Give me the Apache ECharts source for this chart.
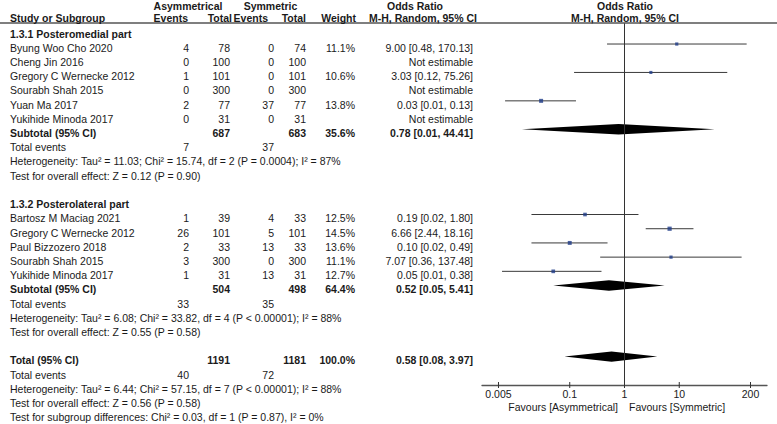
<!DOCTYPE html>
<html><head><meta charset="utf-8">
<script src="https://cdn.jsdelivr.net/npm/echarts@6/dist/echarts.min.js"></script>
<style>html,body{margin:0;padding:0;background:#fff}#c{width:777px;height:424px}</style>
</head><body><div id="c"></div>
<script>
const FONT = '"Liberation Sans", Arial, Helvetica, sans-serif';

// ---- Subgroup 1.3.1 ----
const g1Title = '1.3.1 Posteromedial part';
const g1Studies = ['Byung Woo Cho 2020', 'Cheng Jin 2016', 'Gregory C Wernecke 2012', 'Sourabh Shah 2015', 'Yuan Ma 2017', 'Yukihide Minoda 2017'];
const g1EvA = [4, 0, 1, 0, 2, 0];
const g1TotA = [78, 100, 101, 300, 77, 31];
const g1EvS = [0, 0, 0, 0, 37, 0];
const g1TotS = [74, 100, 101, 300, 77, 31];
const g1Wt = [11.1, null, 10.6, null, 13.8, null];
const g1Or = [9.00, null, 3.03, null, 0.03, null];
const g1Lo = [0.48, null, 0.12, null, 0.0066, null];
const g1Hi = [170.13, null, 75.26, null, 0.13, null];
const g1Sub = [0.78, 0.0134, 44.41];          // estimate, lower, upper
const g1SubTot = [687, 683, 35.6];
const g1Events = [7, 37];
const g1Het = 'Heterogeneity: Tau\u00B2 = 11.03; Chi\u00B2 = 15.74, df = 2 (P = 0.0004); I\u00B2 = 87%';
const g1Test = 'Test for overall effect: Z = 0.12 (P = 0.90)';

// ---- Subgroup 1.3.2 ----
const g2Title = '1.3.2 Posterolateral part';
const g2Studies = ['Bartosz M Maciag 2021', 'Gregory C Wernecke 2012', 'Paul Bizzozero 2018', 'Sourabh Shah 2015', 'Yukihide Minoda 2017'];
const g2EvA = [1, 26, 2, 3, 1];
const g2TotA = [39, 101, 33, 300, 31];
const g2EvS = [4, 5, 13, 0, 13];
const g2TotS = [33, 101, 33, 300, 31];
const g2Wt = [12.5, 14.5, 13.6, 11.1, 12.7];
const g2Or = [0.19, 6.66, 0.10, 7.07, 0.05];
const g2Lo = [0.02, 2.44, 0.02, 0.36, 0.0058];
const g2Hi = [1.80, 18.16, 0.49, 137.48, 0.38];
const g2Sub = [0.52, 0.05, 5.41];
const g2SubTot = [504, 498, 64.4];
const g2Events = [33, 35];
const g2Het = 'Heterogeneity: Tau\u00B2 = 6.08; Chi\u00B2 = 33.82, df = 4 (P < 0.00001); I\u00B2 = 88%';
const g2Test = 'Test for overall effect: Z = 0.55 (P = 0.58)';

// ---- Overall ----
const totSub = [0.58, 0.08, 3.97];
const totTot = [1191, 1181, 100.0];
const totEvents = [40, 72];
const totHet = 'Heterogeneity: Tau\u00B2 = 6.44; Chi\u00B2 = 57.15, df = 7 (P < 0.00001); I\u00B2 = 88%';
const totTest = 'Test for overall effect: Z = 0.56 (P = 0.58)';
const subgroupTest = 'Test for subgroup differences: Chi\u00B2 = 0.03, df = 1 (P = 0.87), I\u00B2 = 0%';

// ---- Axis ----
const tickValues = [0.005, 0.1, 1, 10, 200];
const tickLabels = ['0.005', '0.1', '1', '10', '200'];
const favourLeft = 'Favours [Asymmetrical]';
const favourRight = 'Favours [Symmetric]';

// ---------- build rows ----------
const fmt = v => v.toFixed(2);
const effText = (e, l, h) => e == null ? 'Not estimable' : fmt(e) + ' [' + fmt(l) + ', ' + fmt(h) + ']';
const rows = [];      // {r, cells:{...}, bold}
const squares = [];   // [or, row, weight]
const ciLines = [];   // [lo, row, hi]
const diamonds = [];  // [lo, row, est, hi]
let r = 0;
const groups = [
  [g1Title, g1Studies, g1EvA, g1TotA, g1EvS, g1TotS, g1Wt, g1Or, g1Lo, g1Hi, g1Sub, g1SubTot, g1Events, g1Het, g1Test],
  [g2Title, g2Studies, g2EvA, g2TotA, g2EvS, g2TotS, g2Wt, g2Or, g2Lo, g2Hi, g2Sub, g2SubTot, g2Events, g2Het, g2Test]
];
groups.forEach(g => {
  const [title, st, evA, totA, evS, totS, wt, or, lo, hi, sub, subTot, ev, het, test] = g;
  rows.push({r: r++, cells: {name: title}, bold: true});
  st.forEach((s, i) => {
    rows.push({r: r, cells: {name: s, evA: evA[i], totA: totA[i], evS: evS[i], totS: totS[i],
      wt: wt[i] == null ? '' : wt[i].toFixed(1) + '%', eff: effText(or[i], lo[i], hi[i])}});
    if (or[i] != null) { squares.push([or[i], r, wt[i]]); ciLines.push([lo[i], r, hi[i]]); }
    r++;
  });
  rows.push({r: r, cells: {name: 'Subtotal (95% CI)', totA: subTot[0], totS: subTot[1], wt: subTot[2].toFixed(1) + '%',
    eff: effText(sub[0], sub[1], sub[2])}, bold: true});
  diamonds.push([sub[1], r, sub[0], sub[2]]); r++;
  rows.push({r: r++, cells: {name: 'Total events', evA: ev[0], evS: ev[1]}});
  rows.push({r: r++, cells: {name: het}});
  rows.push({r: r++, cells: {name: test}});
  r++;
});
rows.push({r: r, cells: {name: 'Total (95% CI)', totA: totTot[0], totS: totTot[1], wt: totTot[2].toFixed(1) + '%',
  eff: effText(totSub[0], totSub[1], totSub[2])}, bold: true});
diamonds.push([totSub[1], r, totSub[0], totSub[2]]); r++;
rows.push({r: r++, cells: {name: 'Total events', evA: totEvents[0], evS: totEvents[1]}});
rows.push({r: r++, cells: {name: totHet}});
rows.push({r: r++, cells: {name: totTest}});
rows.push({r: r++, cells: {name: subgroupTest}});

const chart = echarts.init(document.getElementById('c'), null, {renderer: 'svg'});
const INK = '#1a1a1a';

chart.setOption({
  animation: false,
  backgroundColor: '#fff',
  grid: {left: 482, top: 23, width: 285, height: 362, containLabel: false},
  xAxis: {
    type: 'log', logBase: 10, min: 0.0025, max: 400,
    axisLine: {show: true, onZero: false, lineStyle: {color: '#555', width: 1.3}},
    axisTick: {show: false},
    minorTick: {show: false},
    splitLine: {show: false},
    axisLabel: {
      show: true, customValues: tickValues, margin: 3,
      fontSize: 10.5, lineHeight: 11, fontFamily: FONT, color: INK,
      formatter: v => {
        const i = tickValues.findIndex(t => Math.abs(Math.log10(t) - Math.log10(v)) < 1e-6);
        return i >= 0 ? tickLabels[i] : '';
      }
    }
  },
  yAxis: {type: 'value', min: -0.48, max: 25, inverse: true, show: false},
  series: [
    {
      type: 'custom', name: 'ci', clip: false, z: 2,
      data: ciLines, encode: {x: [0, 2], y: 1},
      renderItem: (params, api) => {
        const a = api.coord([api.value(0), api.value(1)]);
        const b = api.coord([api.value(2), api.value(1)]);
        return {type: 'line', shape: {x1: a[0], y1: a[1], x2: b[0], y2: b[1]},
          style: {stroke: '#3a3a3a', lineWidth: 1}};
      }
    },
    {
      type: 'scatter', name: 'or', z: 3, symbol: 'rect',
      data: squares,
      symbolSize: v => v[2] * 0.29,
      itemStyle: {color: '#1f3c88'},
      markLine: {
        silent: true, symbol: ['none', 'none'], label: {show: false},
        lineStyle: {color: '#333', width: 1, type: 'solid'},
        data: [{xAxis: 1}]
      }
    },
    {
      type: 'custom', name: 'pooled', clip: false, z: 4,
      data: diamonds, encode: {x: [0, 2, 3], y: 1},
      renderItem: (params, api) => {
        const l = api.coord([api.value(0), api.value(1)]);
        const c = api.coord([api.value(2), api.value(1)]);
        const h = api.coord([api.value(3), api.value(1)]);
        const hh = 5.2;
        return {type: 'polygon', shape: {points: [[l[0], l[1]], [c[0], c[1] - hh], [h[0], h[1]], [c[0], c[1] + hh]]},
          style: {fill: '#000'}};
      }
    },
    {
      type: 'custom', name: 'ticks', clip: false, z: 5,
      data: tickValues.map(v => [v, 0]), encode: {x: 0, y: 1},
      renderItem: (params, api) => {
        const x = api.coord([api.value(0), 0])[0];
        const yb = params.coordSys.y + params.coordSys.height;
        return {type: 'line', shape: {x1: x, y1: yb - 3, x2: x, y2: yb + 3},
          style: {stroke: '#333', lineWidth: 1}};
      }
    }
  ]
});

// ---------- table text ----------
const cols = {
  name: {x: 10, align: 'left'},
  evA: {x: 189, align: 'right'},
  totA: {x: 230, align: 'right'},
  evS: {x: 274, align: 'right'},
  totS: {x: 306, align: 'right'},
  wt: {x: 355, align: 'right'},
  eff: {x: 473, align: 'right'}
};
function txt(x, y, s, align, bold) {
  return {type: 'text', x: x, y: y, silent: true, z: 10,
    style: {text: String(s), fill: INK, fontSize: 10.5, fontFamily: FONT, fontWeight: bold ? 'bold' : 'normal',
      textAlign: align, textVerticalAlign: 'middle', align: align, verticalAlign: 'middle'}};
}
const yOf = row => chart.convertToPixel({yAxisIndex: 0}, row);
const gfx = [];
rows.forEach(row => {
  const y = yOf(row.r) + 3.8;
  Object.keys(row.cells).forEach(k => {
    const v = row.cells[k];
    if (v === '' || v == null) return;
    gfx.push(txt(cols[k].x, y, v, cols[k].align, row.bold));
  });
});
// headers
const h1 = 5.5, h2 = 17.5;
gfx.push(txt(188, h1, 'Asymmetrical', 'center', true));
gfx.push(txt(270.5, h1, 'Symmetric', 'center', true));
gfx.push(txt(415, h1, 'Odds Ratio', 'center', true));
gfx.push(txt(625, h1, 'Odds Ratio', 'center', true));
gfx.push(txt(10, h2, 'Study or Subgroup', 'left', true));
gfx.push(txt(188, h2, 'Events', 'right', true));
gfx.push(txt(232, h2, 'Total', 'right', true));
gfx.push(txt(268, h2, 'Events', 'right', true));
gfx.push(txt(306, h2, 'Total', 'right', true));
gfx.push(txt(356, h2, 'Weight', 'right', true));
gfx.push(txt(423, h2, 'M-H, Random, 95% CI', 'center', true));
gfx.push(txt(625, h2, 'M-H, Random, 95% CI', 'center', true));
gfx.push({type: 'line', silent: true, z: 9, shape: {x1: 0, y1: 23, x2: 777, y2: 23}, style: {stroke: '#555', lineWidth: 1.3}});
// favours labels
gfx.push(txt(618, 406.5, favourLeft, 'right', false));
gfx.push(txt(629, 406.5, favourRight, 'left', false));

chart.setOption({graphic: {elements: gfx}});
</script>
</body></html>
